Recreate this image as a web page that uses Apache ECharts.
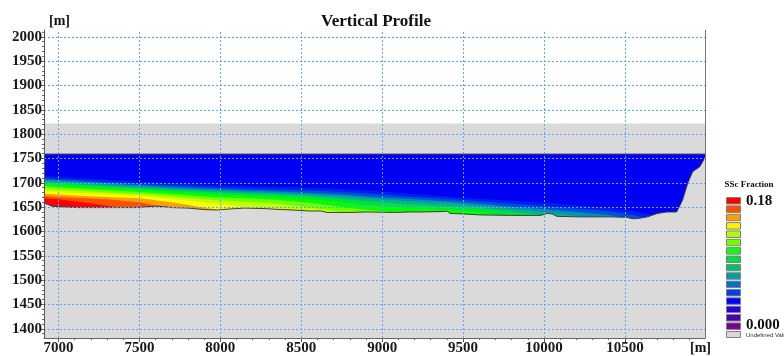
<!DOCTYPE html>
<html><head><meta charset="utf-8">
<script src="https://cdn.jsdelivr.net/npm/echarts@6/dist/echarts.min.js"></script>
<style>html,body{margin:0;padding:0;background:#fff}#c{width:784px;height:356px}</style>
</head><body><div id="c"></div>
<script>
// ---- axis ticks / ranges ----
const xTicks = [7000, 7500, 8000, 8500, 9000, 9500, 10000, 10500];
const yTicks = [1400, 1450, 1500, 1550, 1600, 1650, 1700, 1750, 1800, 1850, 1900, 1950, 2000];
const xRange = [6910, 10995];
const yRange = [1381, 2014];
const undefinedTop = 1822;   // top of undefined (grey) zone
const surface = 1759;        // top of computed profile

// ---- bed (bottom of profile) ----
const bedX = [6910, 6930, 6960, 6990, 7050, 7120, 7300, 7480, 7560, 7600, 7650, 7700, 7800, 7900, 7980, 8050, 8150, 8270, 8370, 8450, 8550, 8620, 8660, 8800, 8900, 9070, 9170, 9250, 9380, 9400, 9420, 9500, 9600, 9800, 9980, 10020, 10050, 10080, 10200, 10400, 10510, 10550, 10590, 10640, 10700, 10760, 10820, 10857, 10888, 10919, 10963, 10995];
const bedZ = [1658, 1656, 1652, 1651, 1650, 1649, 1649, 1649, 1651, 1652, 1651, 1649, 1648, 1645, 1644, 1646, 1648, 1647, 1645, 1644, 1642, 1642, 1639, 1639, 1640, 1639, 1640, 1640, 1641, 1642, 1637, 1636, 1634, 1633, 1633, 1637, 1636, 1631, 1630, 1630, 1629, 1626, 1627, 1630, 1637, 1640, 1640, 1665, 1699, 1723, 1733, 1752];

// ---- contour tops of SSc fraction classes (m) ----
const cx = [6910, 7000, 7100, 7300, 7500, 7700, 7950, 8150, 8350, 8550, 8750, 8950, 9150, 9400, 9600, 9800, 10000, 10200, 10400, 10550, 10700];
const c01 = [1714, 1712, 1710, 1706, 1702, 1699, 1695, 1693, 1692, 1690, 1687, 1683, 1678, 1672, 1667, 1663, 1659, 1654, 1648, 1642, 1632];
const c02 = [1710, 1708, 1706, 1702, 1698, 1695, 1691, 1688, 1686, 1684, 1681, 1677, 1672, 1667, 1662, 1657, 1652, 1647, 1642, 1634, 1622];
const c03 = [1707, 1705, 1703, 1699, 1695, 1691, 1687, 1684, 1682, 1679, 1676, 1671, 1667, 1662, 1657, 1651, 1646, 1640, 1634, 1625];
const c04 = [1704, 1702, 1700, 1696, 1692, 1688, 1684, 1681, 1679, 1676, 1672, 1667, 1662, 1658, 1653, 1646, 1640, 1632];
const c05 = [1701, 1699, 1697, 1693, 1689, 1685, 1681, 1678, 1676, 1673, 1667, 1661, 1656, 1652, 1648, 1641, 1632];
const c06 = [1698, 1696, 1694, 1690, 1686, 1682, 1677, 1674, 1671, 1667, 1660, 1653, 1648, 1646, 1640, 1630];
const c07 = [1693, 1691, 1689, 1685, 1681, 1677, 1671, 1668, 1665, 1659, 1650, 1643, 1636, 1630];
const c08 = [1688, 1686, 1684, 1680, 1677, 1672, 1665, 1661, 1657, 1649, 1640, 1630];
const c09 = [1683, 1681, 1679, 1676, 1673, 1667, 1658, 1651, 1647, 1638, 1628];
const c10 = [1678, 1676, 1674, 1671, 1668, 1660, 1646, 1638, 1630];
const c11 = [1673, 1671, 1669, 1666, 1660, 1647, 1632, 1620];
const c12 = [1668, 1666, 1662, 1653, 1641, 1630];

const bandTops = [c01, c02, c03, c04, c05, c06, c07, c08, c09, c10, c11, c12];
const bandColors = ['#0020f0', '#0050d8', '#0090b8', '#00b880', '#00e040', '#00ff00', '#70ff00', '#c0ff00', '#ffff00', '#ffa000', '#ff5000', '#ff0000'];

// ---- colour legend ----
const legendColors = ['#ff0000', '#ff5000', '#ffa000', '#fff000', '#b0ff00', '#70ff00', '#10ff10', '#00dd40', '#00c070', '#00a0a0', '#0070c8', '#0040e8', '#0000ff', '#2800e0', '#4a00b0', '#7a0090'];
const legendTitle = 'SSc Fraction';
const legendMax = '0.18';
const legendMin = '0.000';
const legendUndef = 'Undefined Value';

const FONT = 'Liberation Serif';
const GREY = '#dadada';
const GRIDC = '#5ea6f6';
const xMinor = []; for (let v = 7000; v <= 10900; v += 100) xMinor.push(v);
const yMinor = []; for (let v = 1390; v <= 2010; v += 10) yMinor.push(v);

const chart = echarts.init(document.getElementById('c'), null, {renderer: 'canvas'});
const pairs = (xs, zs) => zs.map((z, i) => [xs[i], z]);
const area = (data, color, line) => ({
  type: 'line', data, symbol: 'none', silent: true, animation: false, z: 2,
  lineStyle: line || {width: 0}, itemStyle: {color},
  areaStyle: {color, opacity: 1, origin: 'start'}
});
const noSplit = () => ({show: false});

const series = [];
series.push(area([[xRange[0], undefinedTop], [xRange[1], undefinedTop]], GREY));
series.push(area([[xRange[0], surface], [xRange[1], surface]], '#0000f2', {color: '#444', width: 1}));
bandTops.forEach((tops, k) => series.push(area(pairs(cx, tops), bandColors[k])));
const bed = area(pairs(bedX, bedZ), GREY, {color: '#3c3c3c', width: 1});
bed.markLine = {
  silent: true, symbol: 'none', animation: false, precision: 0,
  label: {show: false}, emphasis: {disabled: true},
  lineStyle: {color: GRIDC, type: [2, 2], width: 1, opacity: 1},
  data: xTicks.map(v => ({xAxis: v})).concat(yTicks.map(v => ({yAxis: v})))
};
series.push(bed);

const graphic = [
  {type: 'text', x: 376, y: 22, style: {text: 'Vertical Profile', font: 'bold 17px "' + FONT + '"', fill: '#111', align: 'center', verticalAlign: 'middle'}},
  {type: 'text', x: 49, y: 21, style: {text: '[m]', font: 'bold 14px "' + FONT + '"', fill: '#111', align: 'left', verticalAlign: 'middle'}},
  {type: 'text', x: 690, y: 348, style: {text: '[m]', font: 'bold 14px "' + FONT + '"', fill: '#111', align: 'left', verticalAlign: 'middle'}},
  {type: 'text', x: 749, y: 185, style: {text: legendTitle, font: 'bold 9px "' + FONT + '"', fill: '#111', align: 'center', verticalAlign: 'middle'}},
  {type: 'text', x: 746, y: 201, style: {text: legendMax, font: 'bold 15px "' + FONT + '"', fill: '#111', align: 'left', verticalAlign: 'middle'}},
  {type: 'text', x: 746, y: 325, style: {text: legendMin, font: 'bold 15px "' + FONT + '"', fill: '#111', align: 'left', verticalAlign: 'middle'}},
  {type: 'text', x: 746, y: 335, style: {text: legendUndef, font: '6px "Liberation Sans"', fill: '#333', align: 'left', verticalAlign: 'middle'}}
];
legendColors.forEach((c, i) => graphic.push({type: 'rect', shape: {x: 726.5, y: 197.5 + i * 8.36, width: 14, height: 6.5}, style: {fill: c, stroke: '#808080', lineWidth: 1}}));
graphic.push({type: 'rect', shape: {x: 726.5, y: 331.5, width: 14, height: 6}, style: {fill: GREY, stroke: '#808080', lineWidth: 1}});

const axisLbl = () => ({fontFamily: FONT, fontWeight: 'bold', fontSize: 15, color: '#1a1a1a', formatter: v => String(v)});

chart.setOption({
  animation: false,
  backgroundColor: '#fff',
  grid: {left: 44, right: 79, top: 30, bottom: 18, containLabel: false, outerBoundsMode: 'none'},
  xAxis: [
    {type: 'value', min: xRange[0], max: xRange[1], z: 5,
      axisLine: {show: true, onZero: false, lineStyle: {color: '#666'}},
      axisTick: {show: true, length: 4, customValues: xTicks, lineStyle: {color: '#555'}},
      axisLabel: Object.assign({customValues: xTicks, margin: 3}, axisLbl()),
      splitLine: noSplit()},
    {type: 'value', min: xRange[0], max: xRange[1], position: 'bottom', z: 5,
      axisLine: {show: false}, axisLabel: {show: false}, splitLine: noSplit(),
      axisTick: {show: true, length: 2, customValues: xMinor, lineStyle: {color: '#666'}}}
  ],
  yAxis: [
    {type: 'value', min: yRange[0], max: yRange[1], z: 5,
      axisLine: {show: true, onZero: false, lineStyle: {color: '#555'}},
      axisTick: {show: true, length: 4, customValues: yTicks, lineStyle: {color: '#555'}},
      axisLabel: Object.assign({customValues: yTicks, margin: 2}, axisLbl()),
      splitLine: noSplit()},
    {type: 'value', min: yRange[0], max: yRange[1], position: 'left', z: 5,
      axisLine: {show: false}, axisLabel: {show: false}, splitLine: noSplit(),
      axisTick: {show: true, length: 2, customValues: yMinor, lineStyle: {color: '#666'}}},
    {type: 'value', min: yRange[0], max: yRange[1], position: 'right', z: 5,
      axisLine: {show: true, lineStyle: {color: '#777', width: 1}}, axisLabel: {show: false},
      axisTick: {show: false}, splitLine: noSplit()}
  ],
  series,
  graphic
});
</script></body></html>
